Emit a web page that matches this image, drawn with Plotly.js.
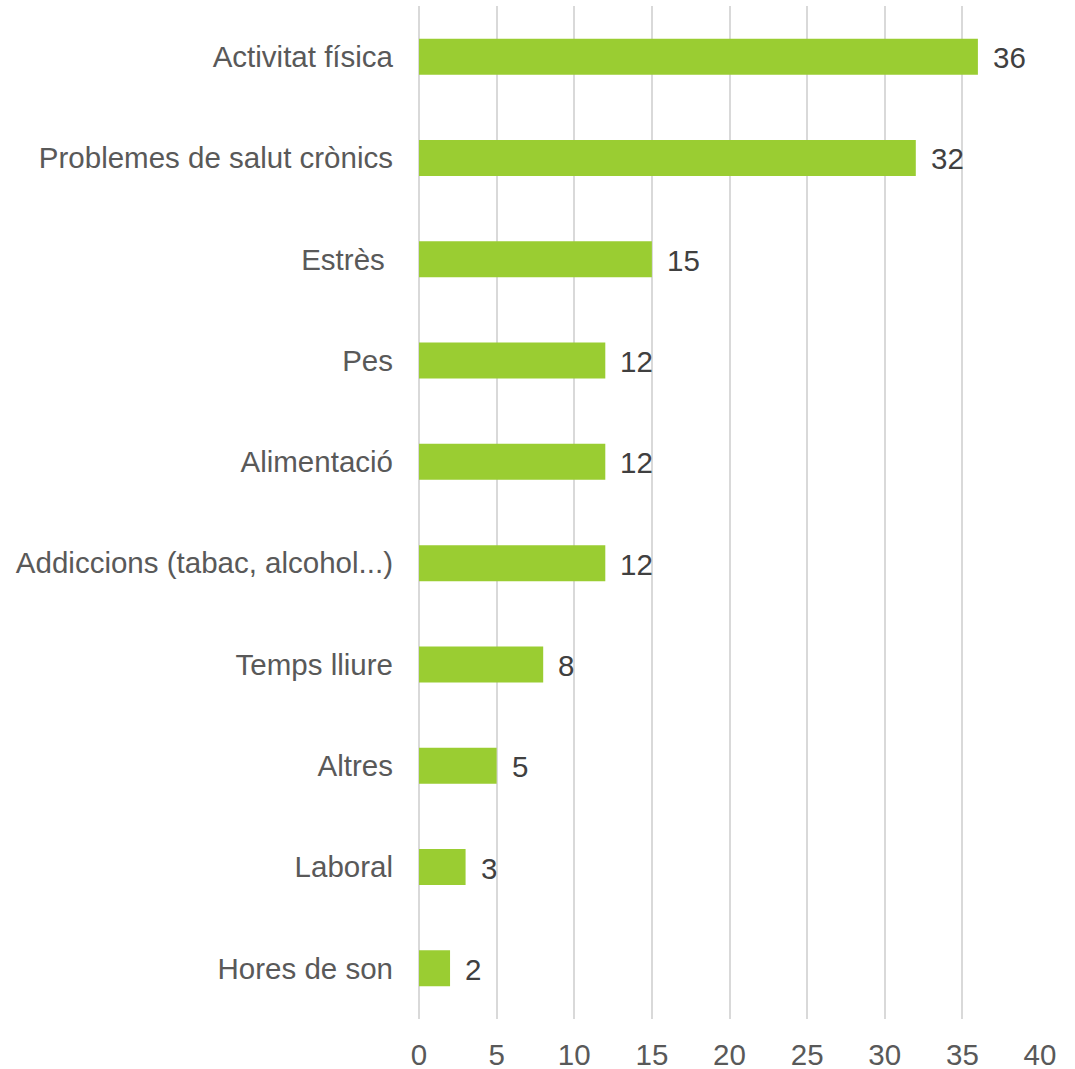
<!DOCTYPE html>
<html>
<head>
<meta charset="utf-8">
<script src="https://cdn.plot.ly/plotly-3.0.1.min.js"></script>
<style>html,body{margin:0;padding:0;background:#fff;}#chart{width:1075px;height:1069px;}</style>
</head>
<body>
<div id="chart"></div>
<script>
const categories = ["Activitat física", "Problemes de salut crònics", "Estrès\u00a0", "Pes", "Alimentació",
  "Addiccions (tabac, alcohol...)", "Temps lliure", "Altres", "Laboral", "Hores de son"];
const values = [36, 32, 15, 12, 12, 12, 8, 5, 3, 2];
const xTicks = [0, 5, 10, 15, 20, 25, 30, 35, 40];

const font = 'Arial, "Liberation Sans", sans-serif';

const trace = {
  type: 'bar',
  orientation: 'h',
  x: values,
  y: categories,
  marker: { color: '#9ACD32' },
  hoverinfo: 'none'
};

const annotations = values.map((v, i) => ({
  x: v, y: categories[i], xref: 'x', yref: 'y',
  text: String(v), showarrow: false, xanchor: 'left', yanchor: 'middle',
  xshift: 13, yshift: -1,
  font: { family: font, size: 29.5, color: '#404040' }
}));

const layout = {
  width: 1075, height: 1069,
  margin: { l: 419, r: 35, t: 6, b: 50 },
  paper_bgcolor: '#ffffff', plot_bgcolor: '#ffffff',
  showlegend: false,
  bargap: 0.645,
  font: { family: font, size: 29.5, color: '#595959' },
  xaxis: {
    range: [0, 40], tickvals: xTicks, ticktext: xTicks.map(String),
    showgrid: true, gridcolor: '#d9d9d9', gridwidth: 2,
    zeroline: true, zerolinecolor: '#d9d9d9', zerolinewidth: 2,
    showline: false, ticks: '', ticklabelstandoff: 15,
    tickfont: { family: font, size: 29.5, color: '#595959' }
  },
  yaxis: {
    type: 'category', autorange: 'reversed',
    showgrid: false, zeroline: false, showline: false, ticks: '',
    ticklabelstandoff: 25,
    tickfont: { family: font, size: 29.5, color: '#595959' }
  },
  annotations: annotations
};

Plotly.newPlot('chart', [trace], layout, { displayModeBar: false, staticPlot: true });
</script>
</body>
</html>
